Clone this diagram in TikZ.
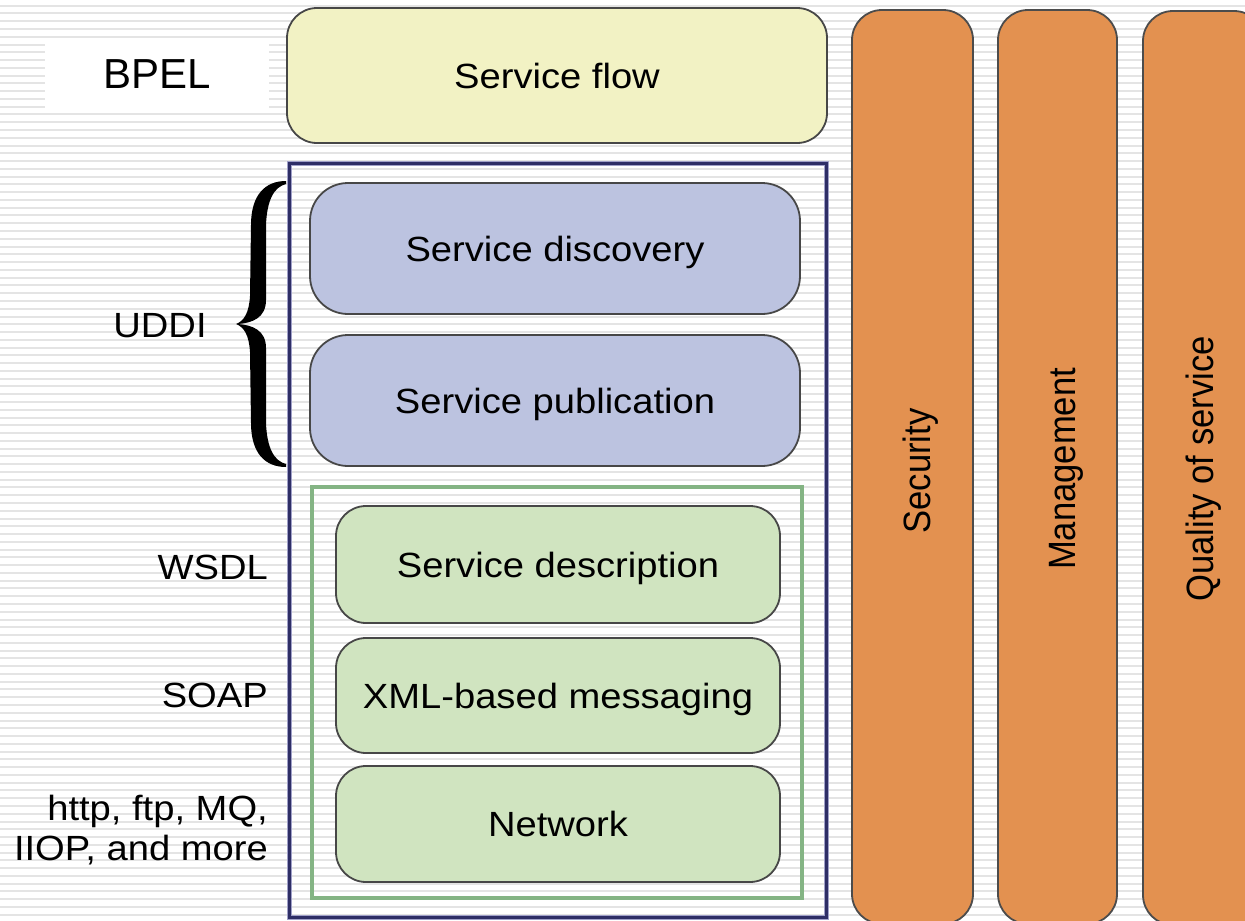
\documentclass[tikz,border=0pt]{standalone}
\usepackage{fontspec}
\setmainfont{Liberation Sans}
\newfontfamily\widefont[FakeStretch=1.09]{Liberation Sans}
\usepackage{graphicx}
\definecolor{flowfill}{HTML}{F2F2C4}
\definecolor{bluefill}{HTML}{BCC3E0}
\definecolor{greenfill}{HTML}{D0E4C0}
\definecolor{orangefill}{HTML}{E39150}
\definecolor{navy}{HTML}{2E2E66}
\definecolor{lavender}{HTML}{A0A0C8}
\definecolor{greenline}{HTML}{84B484}
\definecolor{stripegray}{HTML}{E4E4E4}
\begin{document}
\begin{tikzpicture}[x=1pt,y=-1pt,
  stripe/.style={draw=stripegray, line width=2pt},
  layer/.style={draw=black!72, line width=1.8pt, inner sep=0pt, align=center,
    text height=25pt, text depth=0pt, font={\widefont\fontsize{35}{40}\selectfont}},
  column/.style={draw=black!70, line width=1.8pt, fill=orangefill, rounded corners=30pt, inner sep=0pt},
  sidelabel/.style={inner sep=0pt, anchor=east, align=right,
    font={\widefont\fontsize{35}{40}\selectfont}},
  vlabel/.style={rotate=90, inner sep=0pt, text height=27pt, text depth=0pt,
    font={\fontsize{34.6}{40}\selectfont}}
]
\clip (0,0) rectangle (1245,921);
\fill[white] (0,0) rectangle (1245,921);
\foreach \i in {0,...,118} \draw[stripe] (0,{5.7+7.77*\i}) -- (1245,{5.7+7.77*\i});

% BPEL label
\node[fill=white, minimum width=224pt, minimum height=70pt, inner sep=0pt,
  text height=31pt, text depth=0pt, font={\fontsize{42}{46}\selectfont}] (bpel) at (157,73) {BPEL};

% orange columns
\node[column, minimum width=121pt, minimum height=914pt] (sec) at (912.5,467) {};
\node[column, minimum width=119pt, minimum height=914pt] (mgmt) at (1057.5,467) {};
\node[column, minimum width=121pt, minimum height=914pt] (qos) at (1203.5,468) {};
\node[vlabel] (seclab) at (917,471) {\scalebox{1}[1.1]{Security}};
\node[vlabel] (mgmtlab) at (1062,469) {\scalebox{1}[1.1]{Management}};
\node[vlabel] (qoslab) at (1200,469) {\scalebox{1}[1.1]{Quality of service}};

% service flow
\node[layer, fill=flowfill, rounded corners=30pt, minimum width=540pt, minimum height=135pt] (flow) at (557,75.5) {Service flow};

% blue frame
\node[draw=lavender, line width=5pt, minimum width=537pt, minimum height=754pt, inner sep=0pt] (frameouter) at (557.5,540) {};
\node[draw=navy, line width=3pt, minimum width=537pt, minimum height=754pt, inner sep=0pt] (frame) at (557.5,540) {};

% UDDI boxes
\node[layer, fill=bluefill, rounded corners=38pt, minimum width=490pt, minimum height=131pt] (disc) at (555,248.5) {Service discovery};
\node[layer, fill=bluefill, rounded corners=38pt, minimum width=490pt, minimum height=131pt] (pub) at (555,400.5) {Service publication};

% green frame
\node[draw=greenline, line width=3.5pt, minimum width=490pt, minimum height=411pt, inner sep=0pt] (gframe) at (557,692.5) {};

% green boxes
\node[layer, fill=greenfill, rounded corners=30pt, minimum width=444pt, minimum height=117pt] (desc) at (558,564.5) {Service description};
\node[layer, fill=greenfill, rounded corners=30pt, minimum width=444pt, minimum height=115pt] (xml) at (558,695.5) {XML-based messaging};
\node[layer, fill=greenfill, rounded corners=30pt, minimum width=444pt, minimum height=116pt] (net) at (558,824) {Network};

% brace
\fill[black] (286,181) .. controls (265,181) and (251,195) .. (251,225)
  -- (250,296) .. controls (249,313) and (244,321) .. (236,324)
  .. controls (244,327) and (249,335) .. (250,352)
  -- (251,423) .. controls (251,453) and (265,467) .. (286,467)
  -- (286,464) .. controls (274,461) and (267,448) .. (266,423)
  -- (266,348) .. controls (266,330) and (252,325) .. (238,324)
  .. controls (252,323) and (266,318) .. (266,300)
  -- (266,225) .. controls (267,200) and (274,187) .. (286,184) -- cycle;

% side labels
\node[sidelabel, text height=25pt, text depth=0pt, anchor=center] (uddi) at (160,325) {UDDI};
\node[sidelabel, text height=25pt, text depth=0pt] (wsdl) at (268,567) {WSDL};
\node[sidelabel, text height=25pt, text depth=0pt] (soap) at (268,695) {SOAP};
\node[sidelabel] (proto) at (268,830) {http, ftp, MQ,\\IIOP, and more};
\end{tikzpicture}
\end{document}
